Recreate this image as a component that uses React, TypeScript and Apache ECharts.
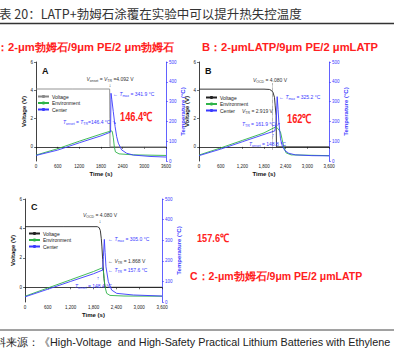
import React, { useEffect, useRef } from "react";
import * as echarts from "echarts";

const timeTicks = [0, 600, 1200, 1800, 2400, 3000, 3600];
const voltageTicks = [0, 2, 4, 6];
const tempTicks = [0, 100, 200, 300, 400, 500];

const aVoltage = [[0, 4.09], [1000, 4.09], [2040, 4.09], [2045, 2.0], [2050, 0], [3600, 0]];
const aEnvironment = [[0, 30], [600, 62], [1200, 100], [1800, 136], [2080, 152], [2110, 150], [2140, 120], [2170, 70], [2200, 46], [2300, 36], [2700, 31], [3600, 28]];
const aCenter = [[0, 28], [600, 55], [1200, 92], [1800, 127], [2065, 146], [2077, 342], [2100, 310], [2140, 250], [2190, 174], [2234, 123], [2280, 90], [2372, 56], [2511, 39], [2695, 30], [3157, 23], [3600, 20]];

const bVoltage = [[0, 4.08], [1800, 4.08], [1950, 4.06], [2000, 4.0], [2050, 3.85], [2090, 3.5], [2110, 2.9], [2135, 2.2], [2145, 0], [3600, 0]];
const bEnvironment = [[0, 30], [600, 66], [1200, 104], [1800, 142], [2120, 172], [2180, 165], [2257, 146], [2300, 110], [2348, 70], [2412, 41], [2550, 31], [3600, 27]];
const bCenter = [[0, 27], [600, 60], [1200, 97], [1800, 134], [2100, 152], [2140, 200], [2165, 325], [2190, 260], [2211, 197], [2257, 112], [2303, 78], [2376, 53], [2486, 39], [2668, 31], [3125, 27], [3600, 26]];

const cVoltage = [[0, 4.12], [1000, 4.12], [1900, 4.12], [1950, 4.05], [1980, 3.85], [2005, 3.3], [2020, 2.8], [2041, 1.9], [2076, 0.6], [2102, 0], [3600, 0]];
const cEnvironment = [[0, 28], [600, 68], [1200, 108], [1800, 148], [2020, 165], [2059, 150], [2102, 74], [2146, 42], [2234, 32], [2600, 29], [3600, 28]];
const cCenter = [[0, 25], [600, 62], [1200, 100], [1800, 137], [2040, 155], [2060, 220], [2085, 304], [2105, 240], [2128, 171], [2190, 99], [2277, 58], [2409, 42], [2847, 34], [3600, 29]];

const bTRTime = 2020;

const FONT = "'Liberation Sans', Arial, sans-serif";
const BLUE = "#3a3aff";
const GREEN = "#2fb34a";
const RED = "#ff2020";

const rich = {
  i: { fontStyle: "italic", fontSize: 5, fontFamily: FONT },
  s: { fontSize: 3.5, fontFamily: FONT, padding: [3, 0, 0, 0] },
};

function note(x: number, y: number, text: string, color: string, align = "left") {
  return {
    type: "text",
    z: 100,
    style: {
      x, y, text, fill: color, fontSize: 5, fontFamily: FONT,
      align, verticalAlign: "middle",
      rich: {
        i: { ...rich.i, fill: color },
        s: { ...rich.s, fill: color },
      },
    },
  };
}

function bigText(x: number, y: number, text: string, size: number, color = RED, scaleX = 1) {
  return {
    type: "text",
    z: 100,
    x, y, scaleX,
    style: { x: 0, y: 0, text, fill: color, fontSize: size, fontWeight: "bold", fontFamily: FONT, align: "left", verticalAlign: "middle" },
  };
}

function grids() {
  return [
    { left: 36, top: 62, width: 130, height: 99 },
    { left: 199, top: 62, width: 130, height: 99 },
    { left: 25, top: 199, width: 137, height: 103 },
  ];
}

function xAxis(idx: number, commas: boolean) {
  return {
    type: "value", gridIndex: idx, min: 0, max: 3600, interval: 600,
    name: "Time (s)", nameLocation: "middle", nameGap: 10,
    nameTextStyle: { fontSize: 6, fontWeight: "bold", color: "#111", fontFamily: FONT },
    axisLine: { lineStyle: { color: "#111", width: 0.8 } },
    axisTick: { length: 2, lineStyle: { color: "#111", width: 0.6 } },
    axisLabel: {
      fontSize: 4.5, color: "#222", margin: 3, fontFamily: FONT,
      formatter: (v: number) => (commas ? v.toLocaleString("en-US") : String(v)),
    },
    splitLine: { show: false },
  };
}

function vAxis(idx: number) {
  return {
    type: "value", gridIndex: idx, min: -1, max: 6,
    name: "Voltage (V)", nameLocation: "middle", nameGap: 7, nameRotate: 90,
    nameTextStyle: { fontSize: 6, fontWeight: "bold", color: "#111", fontFamily: FONT },
    axisLine: { show: true, lineStyle: { color: "#111", width: 0.8 } },
    axisTick: { show: true, length: 2, customValues: voltageTicks, lineStyle: { color: "#111", width: 0.6 } },
    axisLabel: { fontSize: 4.5, color: "#222", margin: 3, fontFamily: FONT, customValues: voltageTicks },
    splitLine: { show: false },
  };
}

function tAxis(idx: number) {
  return {
    type: "value", gridIndex: idx, min: 0, max: 500, interval: 100, position: "right",
    name: "Temperature (°C)", nameLocation: "middle", nameGap: 14, nameRotate: 90,
    nameTextStyle: { fontSize: 6, fontWeight: "bold", color: BLUE, fontFamily: FONT },
    axisLine: { show: true, lineStyle: { color: BLUE, width: 0.8 } },
    axisTick: { show: true, length: 2, lineStyle: { color: BLUE, width: 0.6 } },
    axisLabel: { fontSize: 4.5, color: BLUE, margin: 3, fontFamily: FONT },
    splitLine: { show: false },
  };
}

function line(name: string, data: number[][], xi: number, yi: number, color: string, extra: any = {}) {
  return {
    type: "line", name, data, xAxisIndex: xi, yAxisIndex: yi,
    symbol: "none", lineStyle: { color, width: 0.9 }, itemStyle: { color },
    ...extra,
  };
}

function legend(left: number, top: number, vColor: string) {
  return {
    left, top, orient: "vertical", itemWidth: 11, itemHeight: 4, itemGap: 1.5, padding: 0,
    textStyle: { fontSize: 5, color: "#222", fontFamily: FONT, padding: [0, 0, 0, -2] },
    data: [
      { name: "Voltage", itemStyle: { color: vColor }, lineStyle: { color: vColor } },
      { name: "Environment" },
      { name: "Center" },
    ],
  };
}

export default function App() {
  const ref = useRef<HTMLDivElement>(null);
  useEffect(() => {
    if (!ref.current) return;
    const chart = echarts.init(ref.current, undefined, { renderer: "svg" });
    const option: any = {
      animation: false,
      backgroundColor: "#fff",
      textStyle: { fontFamily: FONT },
      grid: grids(),
      xAxis: [xAxis(0, false), xAxis(1, true), xAxis(2, true)],
      yAxis: [vAxis(0), tAxis(0), vAxis(1), tAxis(1), vAxis(2), tAxis(2)],
      legend: [legend(37, 94, "#888"), legend(205, 95, "#222"), legend(28, 231, "#222")],
      series: [
        line("Voltage", aVoltage, 0, 0, "#888"),
        line("Environment", aEnvironment, 0, 1, GREEN),
        line("Center", aCenter, 0, 1, BLUE),
        line("Voltage", bVoltage, 1, 2, "#222", {
          markLine: {
            silent: true, symbol: "none", label: { show: false },
            lineStyle: { type: "dotted", color: "#333", width: 0.6 },
            data: [[{ coord: [bTRTime, 4.5] }, { coord: [bTRTime, -0.2] }]],
          },
        }),
        line("Environment", bEnvironment, 1, 3, GREEN),
        line("Center", bCenter, 1, 3, BLUE),
        line("Voltage", cVoltage, 2, 4, "#222"),
        line("Environment", cEnvironment, 2, 5, GREEN),
        line("Center", cCenter, 2, 5, BLUE),
      ],
      graphic: [
        { type: "text", z: 100, style: { x: -1, y: 13, text: "表 20：LATP+勃姆石涂覆在实验中可以提升热失控温度", fill: "#333", fontSize: 12.5, fontFamily: "'Noto Sans CJK SC', " + FONT, align: "left", verticalAlign: "middle" } },
        { type: "line", z: 100, shape: { x1: 0, y1: 23.5, x2: 394, y2: 23.5 }, style: { stroke: "#333", lineWidth: 1.3 } },
        { type: "text", z: 100, style: { x: -11, y: 47, text: "A：2-μm勃姆石/9μm PE/2 μm勃姆石", fill: RED, fontSize: 11.2, fontWeight: "bold", fontFamily: FONT, align: "left", verticalAlign: "middle" } },
        { type: "text", z: 100, style: { x: 202, y: 47, text: "B：2-μmLATP/9μm PE/2 μmLATP", fill: RED, fontSize: 11.2, fontWeight: "bold", fontFamily: FONT, align: "left", verticalAlign: "middle" } },
        // A annotations
        bigText(42, 71, "A", 9, "#111"),
        note(110, 79, "{i|V}{s|onset} = {i|V}{s|TR} =4.092 V", "#333", "center"),
        note(110, 85, "↓", "#333", "center"),
        note(113, 94, "← {i|T}{s|max} = 341.9 °C", BLUE),
        note(63, 122, "{i|T}{s|onset} = {i|T}{s|TR}=146.4 °C ↘", BLUE),
        bigText(120, 116, "146.4℃", 12.5, RED, 0.74),
        // B annotations
        bigText(205, 71, "B", 9, "#111"),
        note(270, 80, "{i|V}{s|OCD} = 4.080 V", "#333", "center"),
        note(242, 111, "{i|V}{s|TR} = 2.919 V", "#333"),
        note(279, 97, "← {i|T}{s|max} = 325.2 °C", BLUE),
        note(242, 124, "{i|T}{s|TR} = 161.9 °C ↗", BLUE),
        note(273, 135, "↑", BLUE, "center"),
        note(249, 144, "{i|T}{s|onset} = 148.8 °C", BLUE),
        bigText(287, 118, "162℃", 12.5, RED, 0.74),
        // C annotations
        bigText(31, 207, "C", 9, "#111"),
        note(100, 215, "{i|V}{s|OCD} = 4.080 V", "#333", "center"),
        note(100, 221, "↓", "#333", "center"),
        note(108, 239, "← {i|T}{s|max} = 305.0 °C", BLUE),
        note(108, 261, "← {i|V}{s|TR} = 1.868 V", "#333"),
        note(108, 270, "← {i|T}{s|TR} = 157.6 °C", BLUE),
        note(98, 278, "↑", BLUE, "center"),
        note(75, 286, "{i|T}{s|onset} = 148.4 °C", BLUE),
        bigText(197, 238, "157.6℃", 11.5, RED, 0.8),
        { type: "text", z: 100, style: { x: 190, y: 276, text: "C：2-μm勃姆石/9μm PE/2 μmLATP", fill: RED, fontSize: 10.5, fontWeight: "bold", fontFamily: FONT, align: "left", verticalAlign: "middle" } },
        { type: "line", z: 100, shape: { x1: 0, y1: 330, x2: 394, y2: 330 }, style: { stroke: "#444", lineWidth: 1 } },
        { type: "text", z: 100, style: { x: -5, y: 342, text: "料来源：《High-Voltage  and High-Safety Practical Lithium Batteries with Ethylene", fill: "#222", fontSize: 10.8, fontFamily: FONT, align: "left", verticalAlign: "middle" } },
      ],
    };
    chart.setOption(option);
    return () => chart.dispose();
  }, []);
  return <div ref={ref} style={{ position: "fixed", left: 0, top: 0, width: 394, height: 362 }} />;
}
